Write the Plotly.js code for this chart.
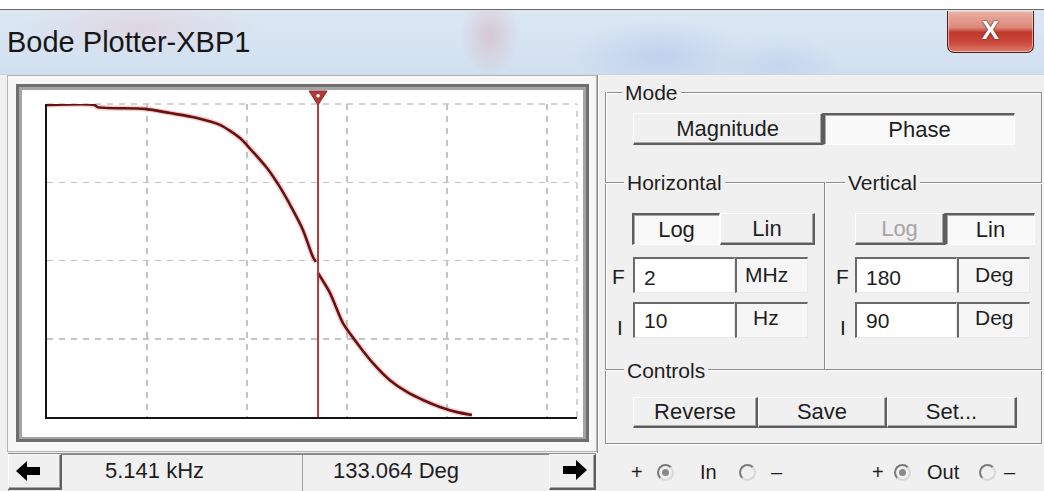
<!DOCTYPE html>
<html><head><meta charset="utf-8">
<script src="https://cdn.plot.ly/plotly-3.0.1.min.js"></script>
<style>
html,body{margin:0;padding:0;}
body{width:1044px;height:491px;overflow:hidden;position:relative;background:#f0f0f0;font-family:"Liberation Sans",Arial,sans-serif;color:#1e1e1e;}
.a{position:absolute;box-sizing:border-box;}
.t{position:absolute;white-space:nowrap;font-size:21px;line-height:21px;}
.raised{background:#f0f0f0;border-top:1px solid #fdfdfd;border-left:1px solid #fdfdfd;border-right:2px solid #5e5e5e;border-bottom:2px solid #5e5e5e;box-shadow:inset -1px -1px 0 #a8a8a8;}
.pressed{background:#f9f9f9;border-top:2px solid #5e5e5e;border-left:2px solid #5e5e5e;border-right:1px solid #fdfdfd;border-bottom:1px solid #fdfdfd;box-shadow:inset 1px 1px 0 #a8a8a8;}
.field{background:#fff;border-top:2px solid #6a6a6a;border-left:2px solid #6a6a6a;border-right:1px solid #e8e8e8;border-bottom:1px solid #e8e8e8;}
.unit{background:#f6f6f6;border-top:2px solid #6a6a6a;border-left:2px solid #6a6a6a;border-right:1px solid #e8e8e8;border-bottom:1px solid #e8e8e8;}
.ctr{display:flex;align-items:center;justify-content:center;font-size:22px;}
.hl{position:absolute;height:2px;border-top:1px solid #8c8c8c;border-bottom:1px solid #ffffff;box-sizing:border-box;}
.vl{position:absolute;width:2px;border-left:1px solid #8c8c8c;border-right:1px solid #ffffff;box-sizing:border-box;}
.lbl{position:absolute;white-space:nowrap;font-size:21px;line-height:21px;background:#f0f0f0;padding:0 3px;}
.radio{position:absolute;width:17px;height:17px;border-radius:50%;border:2px solid;border-color:#7a7a7a #d8d8d8 #d8d8d8 #7a7a7a;box-sizing:border-box;}
.radio.on::after{content:"";position:absolute;left:3px;top:3px;width:7px;height:7px;border-radius:50%;background:#8a8a8a;}
</style></head>
<body>
<!-- title bar -->
<div class="a" style="left:0;top:0;width:1044px;height:10px;background:#ffffff;"></div>
<div class="a" style="left:0;top:9px;width:1044px;height:66px;border-top:1px solid #6a6a6a;border-bottom:1px solid #c9d6e4;
background:
 radial-gradient(ellipse 30px 40px at 490px 25px, rgba(215,120,130,0.28), transparent),
 radial-gradient(ellipse 120px 30px at 140px 18px, rgba(235,185,195,0.35), transparent),
 radial-gradient(ellipse 90px 35px at 660px 45px, rgba(150,170,225,0.30), transparent),
 radial-gradient(ellipse 60px 30px at 780px 55px, rgba(160,180,230,0.25), transparent),
 linear-gradient(#dbe7f3,#d6e4f2 55%,#d0dfef);"></div>
<div class="t" style="left:7px;top:28px;font-size:29px;line-height:29px;color:#161616;">Bode Plotter-XBP1</div>
<div class="a" style="left:947px;top:11px;width:87px;height:42px;border:1px solid #4a2020;border-top:none;border-radius:0 0 7px 7px;
background:linear-gradient(#eab0a4 0%,#dc8a7c 40%,#c2382c 52%,#c9473a 75%,#dc7a6a 100%);box-shadow:inset 0 0 0 1px rgba(255,220,210,0.6);"></div>
<div class="t" style="left:947px;top:13px;width:87px;text-align:center;font-size:26px;line-height:34px;font-weight:bold;color:#fff;text-shadow:0 0 2px #5a2020,0 0 1px #5a2020;">X</div>

<!-- left panel -->
<div class="a" style="left:7px;top:75px;width:590px;height:377px;border:1px solid #b4b4b4;background:#f7f7f7;"></div>
<div class="a" style="left:16px;top:84px;width:573px;height:358px;border:3px solid #6e6e6e;background:#fff;box-shadow:inset 0 0 0 3px #a4a4a4;"></div>
<div id="plot" class="a" style="left:22px;top:90px;width:561px;height:347px;"></div>

<!-- bottom readout bar -->
<div class="a" style="left:8px;top:453px;width:588px;height:38px;border-top:2px solid #8a8a8a;border-left:1px solid #8a8a8a;background:#f0f0f0;"></div>
<div class="a raised" style="left:8px;top:454px;width:54px;height:36px;"></div>
<div class="a raised" style="left:549px;top:454px;width:47px;height:36px;"></div>
<div class="a" style="left:302px;top:455px;width:1px;height:36px;background:#a0a0a0;"></div>
<svg class="a" style="left:16px;top:461px;" width="24" height="20"><polygon points="0,10 11,0 11,6 24,6 24,14 11,14 11,20" fill="#000"/></svg>
<svg class="a" style="left:563px;top:460px;" width="24" height="20"><polygon points="24,10 13,0 13,6 0,6 0,14 13,14 13,20" fill="#000"/></svg>
<div id="rdF" class="t" style="left:105px;top:460px;font-size:22px;line-height:22px;"></div>
<div id="rdP" class="t" style="left:333px;top:460px;font-size:22px;line-height:22px;"></div>

<!-- right panel -->
<div class="vl" style="left:597px;top:75px;height:378px;"></div>
<div class="hl" style="left:605px;top:92px;width:437px;"></div>
<div class="vl" style="left:605px;top:92px;height:352px;"></div>
<div class="hl" style="left:605px;top:443px;width:437px;"></div>
<div class="vl" style="left:1041px;top:92px;height:352px;"></div>
<div class="lbl" style="left:622px;top:82px;">Mode</div>

<div class="a raised ctr" style="left:633px;top:113px;width:190px;height:32px;">Magnitude</div>
<div class="a pressed ctr" style="left:823px;top:113px;width:192px;height:32px;">Phase</div>

<div class="hl" style="left:605px;top:182px;width:437px;"></div>
<div class="vl" style="left:824px;top:182px;height:188px;"></div>
<div class="lbl" style="left:624px;top:172px;">Horizontal</div>
<div class="lbl" style="left:845px;top:172px;">Vertical</div>

<div class="a pressed ctr" style="left:632px;top:213px;width:88px;height:32px;">Log</div>
<div class="a raised ctr" style="left:720px;top:213px;width:95px;height:32px;">Lin</div>
<div class="a raised ctr" style="left:855px;top:213px;width:90px;height:32px;color:#a6a6a6;">Log</div>
<div class="a pressed ctr" style="left:945px;top:213px;width:90px;height:32px;">Lin</div>

<div class="t" style="left:612px;top:266px;">F</div>
<div class="a field" style="left:633px;top:257px;width:102px;height:36px;"></div>
<div class="a unit" style="left:735px;top:257px;width:73px;height:36px;"></div>
<div class="t" style="left:617px;top:317px;">I</div>
<div class="a field" style="left:633px;top:302px;width:102px;height:36px;"></div>
<div class="a unit" style="left:735px;top:302px;width:73px;height:36px;"></div>
<div id="hF" class="t" style="left:644px;top:267px;"></div>
<div id="hFu" class="t" style="left:745px;top:264px;"></div>
<div id="hI" class="t" style="left:644px;top:310px;"></div>
<div id="hIu" class="t" style="left:753px;top:307px;"></div>

<div class="t" style="left:836px;top:266px;">F</div>
<div class="a field" style="left:855px;top:257px;width:102px;height:36px;"></div>
<div class="a unit" style="left:957px;top:257px;width:73px;height:36px;"></div>
<div class="t" style="left:840px;top:317px;">I</div>
<div class="a field" style="left:855px;top:302px;width:102px;height:36px;"></div>
<div class="a unit" style="left:957px;top:302px;width:73px;height:36px;"></div>
<div id="vF" class="t" style="left:866px;top:267px;"></div>
<div id="vFu" class="t" style="left:975px;top:264px;"></div>
<div id="vI" class="t" style="left:866px;top:310px;"></div>
<div id="vIu" class="t" style="left:975px;top:307px;"></div>

<div class="hl" style="left:605px;top:369px;width:437px;"></div>
<div class="lbl" style="left:624px;top:360px;">Controls</div>
<div class="a raised ctr" style="left:633px;top:397px;width:125px;height:31px;">Reverse</div>
<div class="a raised ctr" style="left:758px;top:397px;width:129px;height:31px;">Save</div>
<div class="a raised ctr" style="left:887px;top:397px;width:130px;height:31px;">Set...</div>

<!-- terminals row -->
<div class="t" style="left:631px;top:462px;font-size:20px;">+</div>
<div class="radio on" style="left:657px;top:464px;"></div>
<div class="t" style="left:700px;top:462px;font-size:20px;">In</div>
<div class="radio" style="left:739px;top:464px;"></div>
<div class="t" style="left:771px;top:462px;font-size:20px;">–</div>
<div class="t" style="left:872px;top:462px;font-size:20px;">+</div>
<div class="radio on" style="left:894px;top:464px;"></div>
<div class="t" style="left:927px;top:462px;font-size:20px;">Out</div>
<div class="radio" style="left:979px;top:464px;"></div>
<div class="t" style="left:1004px;top:462px;font-size:20px;">–</div>

<script>
// ---- data ----
const freqHz   = [10, 30, 32, 95, 170, 316, 537, 851, 1072, 1585, 2138, 2884, 3631, 4571, 4898, 5030,
                  5129, 6761, 9120, 12589, 18197, 26915, 39811, 57544, 85114, 125893, 177828];
const phaseDeg = [179.7, 179.7, 179.1, 178.6, 177.4, 176.0, 174.0, 170.2, 167.2, 161.6, 156.1, 149.5, 143.8, 136.0, 134.6, null,
                  131.4, 125.7, 117.0, 111.3, 105.5, 100.6, 97.2, 94.9, 92.9, 91.4, 90.6];
const cursorFreqHz = 5141;
const cursorPhaseDeg = 133.064;
const horizFinal = {value: "2", unit: "MHz", hz: 2e6};
const horizInitial = {value: "10", unit: "Hz", hz: 10};
const vertFinal = {value: "180", unit: "Deg"};
const vertInitial = {value: "90", unit: "Deg"};
const phaseDiv = 22.5;

document.getElementById('hF').textContent = horizFinal.value;
document.getElementById('hFu').textContent = horizFinal.unit;
document.getElementById('hI').textContent = horizInitial.value;
document.getElementById('hIu').textContent = horizInitial.unit;
document.getElementById('vF').textContent = vertFinal.value;
document.getElementById('vFu').textContent = vertFinal.unit;
document.getElementById('vI').textContent = vertInitial.value;
document.getElementById('vIu').textContent = vertInitial.unit;
document.getElementById('rdF').textContent = (cursorFreqHz/1000).toFixed(3) + ' kHz';
document.getElementById('rdP').textContent = cursorPhaseDeg.toFixed(3) + ' Deg';

const yMin = Number(vertInitial.value), yMax = Number(vertFinal.value);
const xr = [Math.log10(horizInitial.hz), Math.log10(horizFinal.hz)];
const traces = [
  {x: freqHz, y: phaseDeg, mode: 'lines', line: {color: 'rgba(225,120,120,0.35)', width: 5.5, shape: 'spline', smoothing: 0.7}, connectgaps: false},
  {x: freqHz, y: phaseDeg, mode: 'lines', line: {color: '#661212', width: 2.6, shape: 'spline', smoothing: 0.7}, connectgaps: false},
  {x: [cursorFreqHz, cursorFreqHz], y: [yMin, yMax], mode: 'lines', line: {color: '#ad3b3b', width: 2}}
];
const gridStyle = {showgrid: true, gridcolor: '#c4c4c4', gridwidth: 1.5, griddash: '6px,6px',
  showticklabels: false, ticks: '', zeroline: false, showline: true, linecolor: '#151515', linewidth: 2, fixedrange: true};
const cursorPaperX = (Math.log10(cursorFreqHz) - xr[0]) / (xr[1] - xr[0]);
const layout = {
  width: 561, height: 347,
  margin: {l: 25, r: 6, t: 14, b: 20, pad: 0},
  paper_bgcolor: '#ffffff', plot_bgcolor: '#ffffff',
  showlegend: false,
  xaxis: Object.assign({type: 'log', range: xr, dtick: 1}, gridStyle),
  yaxis: Object.assign({range: [yMin, yMax], tick0: yMin, dtick: phaseDiv}, gridStyle),
  shapes: [
    {type: 'line', xref: 'paper', yref: 'paper', x0: 0, x1: 1, y0: 1, y1: 1, layer: 'below', line: {color: '#c4c4c4', width: 1.5, dash: '6px,6px'}},
    {type: 'line', xref: 'paper', yref: 'paper', x0: 1, x1: 1, y0: 0, y1: 1, layer: 'below', line: {color: '#c4c4c4', width: 1.5, dash: '6px,6px'}},
    {type: 'path', xref: 'paper', yref: 'paper', xsizemode: 'pixel', ysizemode: 'pixel', xanchor: cursorPaperX, yanchor: 1,
     path: 'M -9 13 L 9 13 L 0 -1 Z', fillcolor: '#b03a3a', line: {color: '#8a2a2a', width: 1}},
    {type: 'circle', xref: 'paper', yref: 'paper', xsizemode: 'pixel', ysizemode: 'pixel', xanchor: cursorPaperX, yanchor: 1,
     x0: -1.8, x1: 1.8, y0: 6.5, y1: 10.1, fillcolor: '#ffffff', line: {width: 0}}
  ]
};
Plotly.newPlot('plot', traces, layout, {staticPlot: true, displayModeBar: false});
</script>
</body></html>
